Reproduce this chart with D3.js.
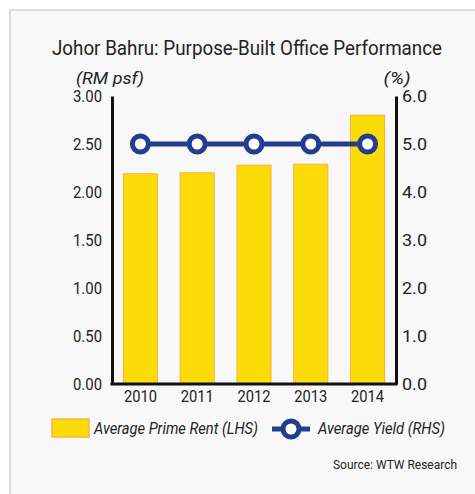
<!DOCTYPE html>
<html>
<head>
<meta charset="utf-8">
<script src="https://cdn.jsdelivr.net/npm/d3@7"></script>
<style>
  body { margin: 0; background: #fff; }
  svg text { fill: #222; }
</style>
</head>
<body>
<svg id="chart" width="475" height="494"></svg>
<script>
// data
const years = ["2010", "2011", "2012", "2013", "2014"];
const rent = [2.19, 2.20, 2.28, 2.29, 2.80];   // RM psf (LHS)
const yieldPct = [5.0, 5.0, 5.0, 5.0, 5.0];     // % (RHS)
const leftTicks = [0, 0.5, 1, 1.5, 2, 2.5, 3];
const rightTicks = [0, 1, 2, 3, 4, 5, 6];

const svg = d3.select("#chart");
const font = "Roboto, 'Noto Sans', sans-serif";

// small helper for the squeezed (condensed-looking) labels
function label(x, y, txt, size, len, opts = {}) {
    const t = svg.append("text")
        .attr("x", x).attr("y", y)
        .attr("text-anchor", opts.anchor || "start")
        .attr("font-family", font)
        .attr("font-size", size)
        .attr("font-style", opts.italic ? "italic" : "normal")
        .text(txt);
    if (len) t.attr("textLength", len).attr("lengthAdjust", "spacingAndGlyphs");
    return t;
}

// panel
svg.append("rect")
    .attr("x", 10).attr("y", 10)
    .attr("width", 480).attr("height", 500)
    .attr("fill", "#f8f8f8")
    .attr("stroke", "#dcdcdc")
    .attr("stroke-width", 2);

const plotL = 112, plotR = 396, plotT = 96, plotB = 384;

const x = d3.scaleBand().domain(years).range([plotL, plotR]).paddingInner(0.4).paddingOuter(0.2);
const yL = d3.scaleLinear().domain([0, 3]).range([plotB, plotT]);
const yR = d3.scaleLinear().domain([0, 6]).range([plotB, plotT]);

// titles
label(247, 55, "Johor Bahru: Purpose-Built Office Performance", 20, 390, {anchor: "middle"});
label(110, 84, "(RM psf)", 16, 68, {anchor: "middle", italic: true});
label(397, 84, "(%)", 16, 27, {anchor: "middle", italic: true});

// bars
svg.append("g")
    .selectAll("rect")
    .data(rent)
    .join("rect")
    .attr("x", (d, i) => x(years[i]))
    .attr("y", d => yL(d))
    .attr("width", x.bandwidth())
    .attr("height", d => yL(0) - yL(d))
    .attr("fill", "#fcdc08")
    .attr("stroke", "#f7b041")
    .attr("stroke-width", 1);

// axes
const axL = svg.append("g")
    .attr("transform", `translate(${plotL},0)`)
    .call(d3.axisLeft(yL).tickValues(leftTicks).tickFormat(d3.format(".2f")).tickSize(0).tickPadding(10));
const axR = svg.append("g")
    .attr("transform", `translate(${plotR},0)`)
    .call(d3.axisRight(yR).tickValues(rightTicks).tickFormat(d3.format(".1f")).tickSize(0).tickPadding(6));
const axB = svg.append("g")
    .attr("transform", `translate(0,${plotB})`)
    .call(d3.axisBottom(x).tickSize(0).tickPadding(7));

[axL, axR, axB].forEach(g => {
    g.select(".domain").attr("stroke", "#111").attr("stroke-width", 3);
    g.selectAll("text")
        .attr("font-family", font)
        .attr("font-size", 16)
        .attr("fill", "#222")
        .attr("textLength", 29)
        .attr("lengthAdjust", "spacingAndGlyphs");
});
axB.select(".domain").attr("d", `M${plotL - 1.5},0H${plotR + 1.5}`);
axR.selectAll("text").attr("textLength", 25);
axB.selectAll("text").attr("textLength", 33);

// yield line
const line = d3.line()
    .x((d, i) => x(years[i]) + x.bandwidth() / 2)
    .y(d => yR(d));

svg.append("path")
    .datum(yieldPct)
    .attr("d", line)
    .attr("fill", "none")
    .attr("stroke", "#253d8d")
    .attr("stroke-width", 5);

svg.append("g")
    .selectAll("circle")
    .data(yieldPct)
    .join("circle")
    .attr("cx", (d, i) => x(years[i]) + x.bandwidth() / 2)
    .attr("cy", d => yR(d))
    .attr("r", 8)
    .attr("fill", "#fff")
    .attr("stroke", "#253d8d")
    .attr("stroke-width", 5);

// legend
svg.append("rect")
    .attr("x", 52).attr("y", 419)
    .attr("width", 37).attr("height", 18)
    .attr("fill", "#fcdc08")
    .attr("stroke", "#f7b041")
    .attr("stroke-width", 1.5);
label(94, 434, "Average Prime Rent (LHS)", 16, 164, {italic: true});
svg.append("line")
    .attr("x1", 272).attr("x2", 310)
    .attr("y1", 429).attr("y2", 429)
    .attr("stroke", "#253d8d")
    .attr("stroke-width", 5);
svg.append("circle")
    .attr("cx", 291).attr("cy", 429)
    .attr("r", 8)
    .attr("fill", "#fff")
    .attr("stroke", "#253d8d")
    .attr("stroke-width", 5);
label(318, 434, "Average Yield (RHS)", 16, 127, {italic: true});

label(457, 469, "Source: WTW Research", 13, 124, {anchor: "end"});
</script>
</body>
</html>
